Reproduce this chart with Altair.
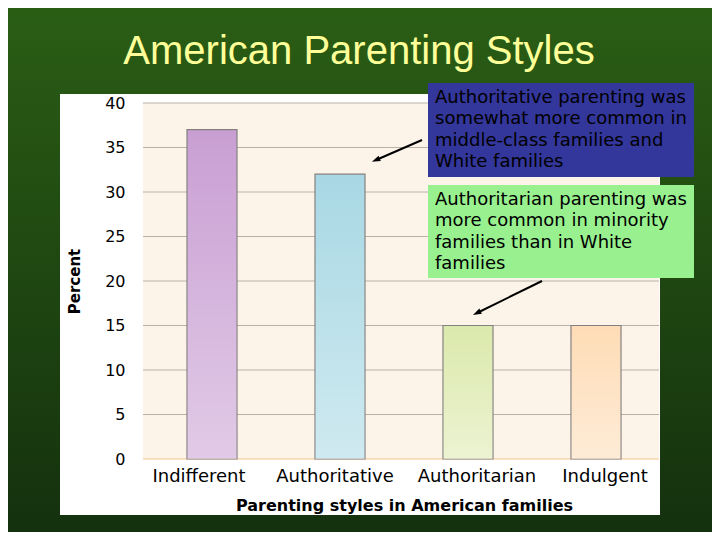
import altair as alt
import pandas as pd

# ---- data ----
styles = ["Indifferent", "Authoritative", "Authoritarian", "Indulgent"]
percents = [37, 32, 15, 15]
bar_colors = ["#c99fd3", "#a8d8e4", "#dce9ac", "#fedcb6"]
label_shift = [-13, -5, 9, 9]
y_ticks = [0, 5, 10, 15, 20, 25, 30, 35, 40]

title_text = "American Parenting Styles"
note1 = ["Authoritative parenting was", "somewhat more common in",
         "middle-class families and", "White families"]
note2 = ["Authoritarian parenting was", "more common in minority",
         "families than in White", "families"]

df = pd.DataFrame({"style": styles, "percent": percents})
grid_df = pd.DataFrame({"v": y_ticks})
one = alt.Data(values=[{}])

W, H = 512, 356

x_scale = alt.Scale(domain=styles, paddingInner=0, paddingOuter=0)
y_scale = alt.Scale(domain=[0, 40], nice=False, zero=True)
color_scale = alt.Scale(domain=styles, range=bar_colors)

FONT = "DejaVu Sans"

label_offset = {
    "condition": [{"test": f"datum.value === '{s}'", "value": o}
                  for s, o in zip(styles, label_shift)],
    "value": 0,
}

# ---- decoration ----
bg = alt.Chart(one).mark_rect(
    fill={"gradient": "linear", "x1": 0, "y1": 0, "x2": 0, "y2": 1,
          "stops": [{"offset": 0, "color": "#2b5f15"},
                    {"offset": 1, "color": "#14300e"}]},
).encode(x=alt.value(-150), x2=alt.value(580), y=alt.value(-110), y2=alt.value(440))

panel = alt.Chart(one).mark_rect(fill="white").encode(
    x=alt.value(-88), x2=alt.value(512), y=alt.value(-9), y2=alt.value(412))

peach = alt.Chart(one).mark_rect(fill="#fdf4e9").encode(
    x=alt.value(-5), x2=alt.value(511), y=alt.value(0), y2=alt.value(H))

grid = alt.Chart(grid_df).mark_rule(strokeWidth=1).encode(
    y=alt.Y("v:Q", scale=y_scale),
    x=alt.value(-5), x2=alt.value(511),
    color=alt.condition(alt.datum.v == 0, alt.value("#f3c68c"), alt.value("#b9b1a8")),
)

# ---- bars ----
bars = alt.Chart(df).mark_bar(size=50, stroke="#858080", strokeWidth=1.2).encode(
    x=alt.X("style:N", scale=x_scale, sort=styles,
            axis=alt.Axis(title="Parenting styles in American families",
                          labelAngle=0, labelFont=FONT, labelFontSize=18,
                          labelColor="black", ticks=False, domain=False,
                          labelPadding=8, grid=False, zindex=1,
                          labelOffset=label_offset,
                          titleFont=FONT, titleFontSize=16, titleFontWeight="bold",
                          titleColor="black", titleX=256, titleY=46,
                          titleBaseline="middle", titleAlign="center")),
    y=alt.Y("percent:Q", scale=y_scale,
            axis=alt.Axis(title="Percent", values=y_ticks, grid=False,
                          domain=False, ticks=False, labelPadding=23,
                          labelFont=FONT, labelFontSize=16, labelColor="black",
                          zindex=1, titleFont=FONT, titleFontSize=15,
                          titleFontWeight="bold", titleColor="black",
                          titleAngle=270, titleX=-74, titleY=178,
                          titleBaseline="middle", titleAlign="center")),
    fill=alt.Fill("style:N", scale=color_scale, legend=None),
)

shine = alt.Chart(df).mark_bar(
    size=49,
    fill={"gradient": "linear", "x1": 0, "y1": 0, "x2": 0, "y2": 1,
          "stops": [{"offset": 0, "color": "rgba(255,255,255,0)"},
                    {"offset": 1, "color": "rgba(255,255,255,0.45)"}]},
).encode(
    x=alt.X("style:N", scale=x_scale, sort=styles),
    y=alt.Y("percent:Q", scale=y_scale),
)

# ---- annotations ----
box1 = alt.Chart(one).mark_rect(fill="#33369a").encode(
    x=alt.value(280), x2=alt.value(546), y=alt.value(-20), y2=alt.value(74))
box2 = alt.Chart(one).mark_rect(fill="#98f08f").encode(
    x=alt.value(280), x2=alt.value(546), y=alt.value(82), y2=alt.value(175))

txt1 = alt.Chart(one).mark_text(
    text=note1, align="left", baseline="middle", font=FONT, fontSize=18,
    lineHeight=21.3, color="black",
).encode(x=alt.value(287), y=alt.value(-5))
txt2 = alt.Chart(one).mark_text(
    text=note2, align="left", baseline="middle", font=FONT, fontSize=18,
    lineHeight=21.3, color="black",
).encode(x=alt.value(287), y=alt.value(97))

arrow_line1 = alt.Chart(one).mark_rule(color="black", strokeWidth=2).encode(
    x=alt.value(274), y=alt.value(37), x2=alt.value(228), y2=alt.value(57))
arrow_line2 = alt.Chart(one).mark_rule(color="black", strokeWidth=2).encode(
    x=alt.value(394), y=alt.value(178), x2=alt.value(329), y2=alt.value(210))

HEAD = "M0,-1L0.65,0.9L-0.65,0.9Z"
head1 = alt.Chart(one).mark_point(
    shape=HEAD, filled=True, color="black", opacity=1, size=80, angle=246.7,
).encode(x=alt.value(228), y=alt.value(57))
head2 = alt.Chart(one).mark_point(
    shape=HEAD, filled=True, color="black", opacity=1, size=80, angle=243.3,
).encode(x=alt.value(329), y=alt.value(210))

title = alt.Chart(one).mark_text(
    text=title_text, font="Liberation Sans", fontSize=40, color="#ffff99",
    align="center", baseline="middle",
).encode(x=alt.value(211), y=alt.value(-51))

chart = alt.layer(
    bg, panel, peach, grid, bars, shine,
    arrow_line1, arrow_line2, head1, head2,
    box1, box2, txt1, txt2, title,
).properties(
    width=W, height=H,
    padding={"left": 140, "top": 95, "right": 52, "bottom": 73},
    autosize=alt.AutoSizeParams(type="none"),
    background="#2b5f15",
).configure_view(stroke=None)

chart.save("out.html", embed_options={"renderer": "svg", "actions": False})
